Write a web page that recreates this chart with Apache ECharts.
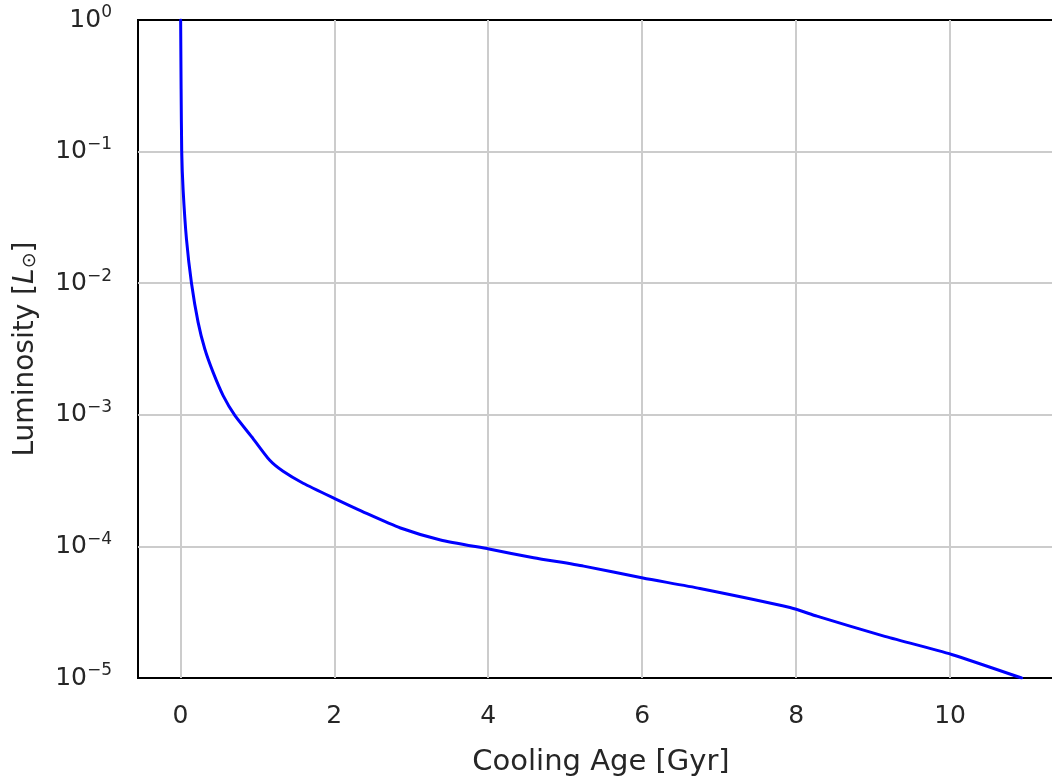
<!DOCTYPE html>
<html>
<head>
<meta charset="utf-8">
<script src="https://cdn.jsdelivr.net/npm/echarts@6/dist/echarts.min.js"></script>
<style>
  html, body { margin: 0; padding: 0; background: #fff; overflow: hidden; }
  #chart { width: 1064px; height: 782px; }
</style>
</head>
<body>
<div id="chart"></div>
<script>
// White dwarf cooling track: luminosity vs cooling age
const coolingAge = [0.004, 0.010, 0.018, 0.036, 0.08, 0.145, 0.231, 0.318, 0.426, 0.556, 0.708, 0.945,
  1.162, 1.335, 1.595, 2.006, 2.42, 2.86, 3.38, 4.01, 4.59, 5.24, 6.01,
  6.75, 7.92, 8.27, 9.13, 10.02, 10.93];
const luminosity = [1.0, 0.3, 0.1, 0.0515, 0.0215, 0.0100, 0.00504, 0.00316, 0.00210, 0.00140, 9.9e-4, 6.6e-4,
  4.51e-4, 3.72e-4, 3.02e-4, 2.31e-4, 1.78e-4, 1.38e-4, 1.12e-4, 9.55e-5, 8.20e-5, 7.08e-5, 5.75e-5,
  4.79e-5, 3.43e-5, 2.95e-5, 2.09e-5, 1.51e-5, 1.0e-5];
const xTicks = [0, 2, 4, 6, 8, 10];
const xRange = [-0.55, 11.48];
const yRange = [1e-5, 1];

const textColor = '#262626';
const font = 'DejaVu Sans';

const chart = echarts.init(document.getElementById('chart'));

function powerLabel(v) {
  const e = Math.round(Math.log10(v));
  const s = e < 0 ? '\u2212' + (-e) : String(e);
  return '{b|10}{s|' + s + '}';
}

chart.setOption({
  animation: false,
  backgroundColor: '#fff',
  textStyle: { fontFamily: font, color: textColor },
  grid: {
    left: 138, top: 20, right: 0, bottom: 102,
    show: true, borderColor: '#000', borderWidth: 2, backgroundColor: 'transparent'
  },
  xAxis: {
    type: 'value',
    min: xRange[0], max: xRange[1],
    name: 'Cooling Age [Gyr]',
    nameLocation: 'middle',
    nameGap: 70,
    nameTextStyle: { fontFamily: font, fontSize: 29, color: textColor },
    axisLine: { show: false },
    axisTick: { show: false },
    splitLine: { show: false },
    axisLabel: {
      customValues: xTicks,
      margin: 26,
      fontFamily: font, fontSize: 25, color: textColor
    }
  },
  yAxis: {
    type: 'log',
    logBase: 10,
    min: yRange[0], max: yRange[1],
    name: '{n|Luminosity [}{i|L}{sub|\u2299}{n|]}',
    nameLocation: 'middle',
    nameGap: 98,
    nameTextStyle: {
      rich: {
        n: { fontFamily: font, fontSize: 28, color: textColor },
        i: { fontFamily: font, fontSize: 28, fontStyle: 'italic', color: textColor },
        sub: { fontFamily: font, fontSize: 19, color: textColor, padding: [8, 0, 0, 0] }
      }
    },
    axisLine: { show: false },
    axisTick: { show: false },
    splitLine: {
      show: true, showMinLine: false, showMaxLine: false,
      lineStyle: { color: '#cccccc', width: 2 }
    },
    axisLabel: {
      margin: 26,
      formatter: powerLabel,
      rich: {
        b: { fontFamily: font, fontSize: 25, color: textColor },
        s: { fontFamily: font, fontSize: 17, color: textColor, padding: [0, 0, 14, 0] }
      }
    }
  },
  series: [
    {
      // vertical grid lines at the x tick positions, kept beneath the curve
      type: 'line',
      data: [],
      z: 1,
      silent: true,
      markLine: {
        z: 1,
        silent: true,
        symbol: 'none',
        label: { show: false },
        lineStyle: { color: '#cccccc', width: 2, type: 'solid' },
        data: xTicks.map(v => ({ xAxis: v }))
      }
    },
    {
      type: 'line',
      z: 3,
      data: coolingAge.map((a, i) => [a, luminosity[i]]),
      showSymbol: false,
      smooth: 0.2,
      lineStyle: { color: '#0000ff', width: 3, join: 'round', cap: 'round' },
      itemStyle: { color: '#0000ff' }
    }
  ]
});
</script>
</body>
</html>
